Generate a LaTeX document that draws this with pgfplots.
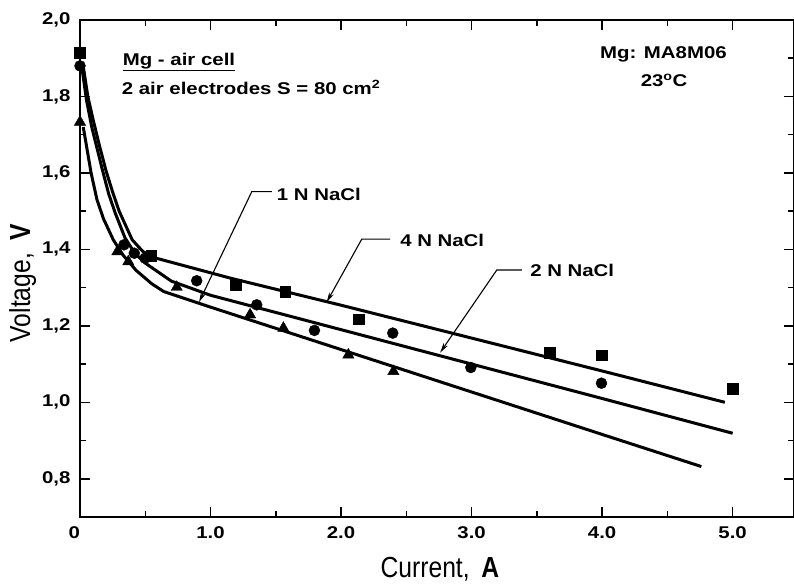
\documentclass[border=0pt]{standalone}
\usepackage{pgfplots}
\pgfplotsset{compat=1.18}
\usetikzlibrary{arrows.meta}
\usepackage{fontspec}
\setmainfont{Liberation Sans}
\newfontfamily\widefont{Liberation Sans}[FakeStretch=1.2]
\newfontfamily\narrowfont{Liberation Sans}[FakeStretch=0.85]
\newcommand\tickfont{\widefont\bfseries\fontsize{17}{20}\selectfont}
\newcommand\annfont{\widefont\bfseries\fontsize{17}{20}\selectfont}
\newcommand\labfont{\narrowfont\fontsize{29}{32}\selectfont}

\pgfplotstableread{
x y
0.000 1.915
0.544 1.383
1.195 1.307
1.571 1.290
2.135 1.217
3.597 1.130
3.995 1.123
4.999 1.036
}\fourN
\pgfplotstableread{
x y
0.000 1.880
0.337 1.412
0.416 1.390
0.498 1.377
0.894 1.318
1.354 1.255
1.796 1.188
2.396 1.181
2.994 1.091
3.995 1.050
}\twoN
\pgfplotstableread{
x y
0.000 1.733
0.286 1.394
0.370 1.368
0.741 1.301
1.303 1.229
1.558 1.194
2.056 1.124
2.401 1.081
}\oneN

\begin{document}
\begin{tikzpicture}
\begin{axis}[
  scale only axis, width=714pt, height=497pt,
  xmin=0, xmax=5.47, ymin=0.7, ymax=2.0,
  axis line style={line width=2pt},
  xtick={0,1,2,3,4,5},
  xticklabels={\llap{0},1.0,2.0,3.0,4.0,5.0},
  ytick={0.8,1.0,1.2,1.4,1.6,1.8,2.0},
  yticklabels={{0,8},{1,0},{1,2},{1,4},{1,6},{1,8},{2,0}},
  minor x tick num=1, minor y tick num=1,
  major tick length=10pt, minor tick length=6pt,
  every tick/.style={black, line width=1.5pt},
  tick label style={font=\tickfont},
  xticklabel style={yshift=-6pt},
  yticklabel style={xshift=-6pt},
  xlabel={Current,\hspace{0.4em}{\bfseries A}},
  ylabel={Voltage,\hspace{0.45em}{\bfseries V}},
  label style={font=\labfont},
  xlabel style={at={(axis description cs:0.504,-0.121)}, anchor=base},
  ylabel style={at={(axis description cs:-0.0803,0.471)}, anchor=center},
  clip=false,
]
% fitted curves
\addplot[black, line width=3pt, line join=round] coordinates {
(0.02,1.89)(0.06,1.80)(0.10,1.74)(0.15,1.67)(0.20,1.605)(0.25,1.55)(0.30,1.50)(0.40,1.425)(0.48,1.395)(0.55,1.38)(1.15,1.325)(2.0,1.254)(3.0,1.168)(4.0,1.082)(4.94,1.0)};
\addplot[black, line width=3pt, line join=round] coordinates {
(0.015,1.875)(0.05,1.79)(0.09,1.72)(0.13,1.665)(0.17,1.61)(0.22,1.545)(0.27,1.495)(0.345,1.43)(0.42,1.39)(0.5,1.364)(0.7,1.317)(1.0,1.28)(2.0,1.19)(3.0,1.10)(4.0,1.01)(5.0,0.919)};
\addplot[black, line width=3pt, line join=round] coordinates {
(0.025,1.72)(0.045,1.68)(0.085,1.60)(0.13,1.53)(0.18,1.48)(0.255,1.425)(0.33,1.385)(0.43,1.345)(0.55,1.31)(0.64,1.29)(1.0,1.249)(2.0,1.138)(3.0,1.027)(4.0,0.916)(4.76,0.832)};
% data points
\addplot[only marks, mark=square*, mark size=5.3pt, black, mark options={fill=black}] table {\fourN};
\addplot[only marks, mark=*, mark size=5.5pt, black, mark options={fill=black}] table {\twoN};
\addplot[only marks, mark=triangle*, mark size=6.5pt, black, mark options={fill=black}] table {\oneN};
% annotations
\node[anchor=base west, inner sep=0pt, font=\annfont] at (axis cs:0.327,1.882) {\underline{Mg - air cell}};
\node[anchor=base west, inner sep=0pt, font=\annfont] at (axis cs:0.319,1.804) {2 air electrodes S = 80 cm\textsuperscript{2}};
\node[anchor=base, inner sep=0pt, font=\annfont] at (axis cs:4.47,1.898) {Mg: MA8M06};
\node[anchor=base, inner sep=0pt, font=\annfont] at (axis cs:4.475,1.825) {23\textsuperscript{o}C};
\node[anchor=base west, inner sep=0pt, font=\annfont] at (axis cs:1.507,1.529) {1 N NaCl};
\node[anchor=base west, inner sep=0pt, font=\annfont] at (axis cs:2.452,1.407) {4 N NaCl};
\node[anchor=base west, inner sep=0pt, font=\annfont] at (axis cs:3.448,1.328) {2 N NaCl};
\draw[line width=1.1pt, -{Stealth[length=10pt,width=5pt]}] (axis cs:1.469,1.551) -- (axis cs:1.316,1.551) -- (axis cs:0.912,1.262);
\draw[line width=1.1pt, -{Stealth[length=10pt,width=5pt]}] (axis cs:2.375,1.427) -- (axis cs:2.159,1.427) -- (axis cs:1.89,1.262);
\draw[line width=1.1pt, -{Stealth[length=10pt,width=5pt]}] (axis cs:3.385,1.346) -- (axis cs:3.193,1.346) -- (axis cs:2.759,1.130);
\end{axis}
\pgfresetboundingbox
\path ([xshift=-80pt,yshift=-69pt]current axis.south west) rectangle ([yshift=20pt]current axis.north east);
\end{tikzpicture}
\end{document}
